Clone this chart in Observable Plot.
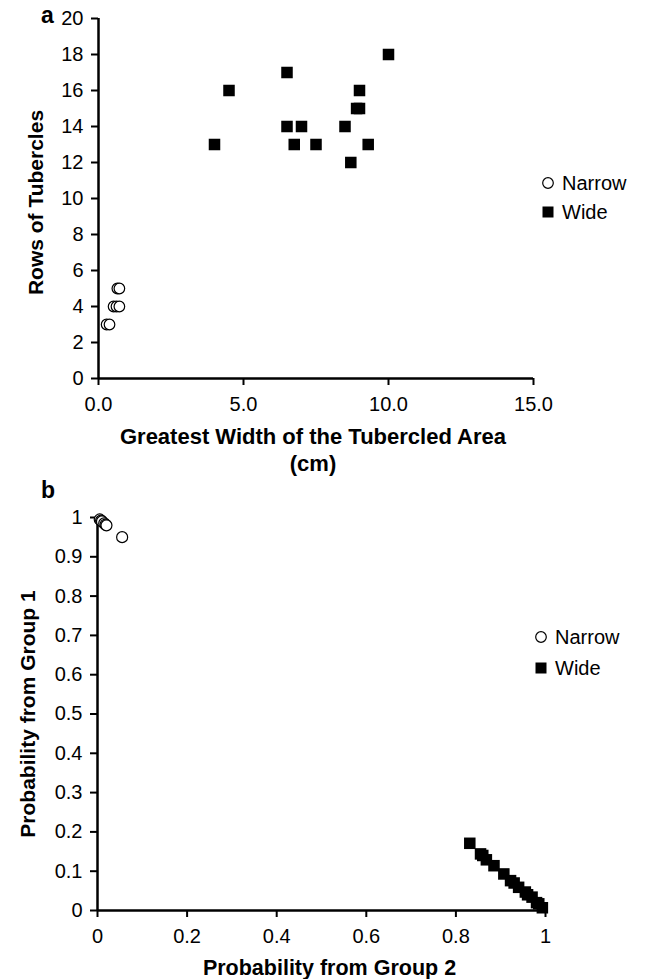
<!DOCTYPE html>
<html>
<head>
<meta charset="utf-8">
<script src="https://cdn.jsdelivr.net/npm/d3@7"></script>
<script src="https://cdn.jsdelivr.net/npm/@observablehq/plot@0.6"></script>
<style>
  body { margin: 0; background: #fff; font-family: "Liberation Sans", Arial, sans-serif; }
  #wrap { position: relative; width: 647px; height: 979px; overflow: hidden; }
  .panel { position: absolute; left: 0; }
  .plabel { position: absolute; font-weight: bold; font-size: 23px; line-height: 1; z-index: 2; }
  .leg { position: absolute; display: flex; align-items: center; font-size: 20px; line-height: 1; z-index: 2; }
  .leg svg { margin-right: 7px; }
</style>
</head>
<body>
<div id="wrap">
  <div class="panel" id="pa" style="top:0px;"></div>
  <div class="panel" id="pb" style="top:480px;"></div>
  <div class="plabel" style="left:41px; top:4px;">a</div>
  <div class="plabel" style="left:41px; top:479px;">b</div>
  <div class="leg" style="left:541px; top:173px;"><svg width="14" height="14"><circle cx="7" cy="7" r="5.3" fill="white" stroke="black" stroke-width="1.2"/></svg>Narrow</div>
  <div class="leg" style="left:541px; top:202px;"><svg width="14" height="14"><rect x="1.5" y="1.5" width="11" height="11" fill="black"/></svg>Wide</div>
  <div class="leg" style="left:534px; top:627px;"><svg width="14" height="14"><circle cx="7" cy="7" r="5.3" fill="white" stroke="black" stroke-width="1.2"/></svg>Narrow</div>
  <div class="leg" style="left:534px; top:658px;"><svg width="14" height="14"><rect x="1.5" y="1.5" width="11" height="11" fill="black"/></svg>Wide</div>
</div>
<script>
// Panel a data: greatest width of tubercled area (cm) vs rows of tubercles
const narrowWidth = [0.28, 0.38, 0.52, 0.62, 0.72, 0.65, 0.72];
const narrowRows  = [3, 3, 4, 4, 4, 5, 5];
const wideWidth   = [4.0, 4.5, 6.5, 6.5, 7.0, 6.75, 7.5, 8.5, 8.7, 8.9, 9.0, 9.0, 9.3, 10.0];
const wideRows    = [13, 16, 17, 14, 14, 13, 13, 14, 12, 15, 15, 16, 13, 18];
const xTicksA = [0, 5, 10, 15];
const yTicksA = [0, 2, 4, 6, 8, 10, 12, 14, 16, 18, 20];

// Panel b data: probability from group 2 (x) vs probability from group 1 (y)
const narrowP2 = [0.005, 0.008, 0.010, 0.015, 0.018, 0.020, 0.055];
const narrowP1 = [0.995, 0.992, 0.990, 0.985, 0.982, 0.980, 0.950];
const wideP2 = [0.831, 0.855, 0.860, 0.868, 0.885, 0.907, 0.922, 0.930, 0.940, 0.955, 0.960, 0.970, 0.980, 0.985, 0.993];
const wideP1 = [0.171, 0.144, 0.140, 0.129, 0.114, 0.093, 0.076, 0.070, 0.059, 0.047, 0.040, 0.034, 0.020, 0.017, 0.007];
const xTicksB = [0, 0.2, 0.4, 0.6, 0.8, 1];
const yTicksB = [0, 0.1, 0.2, 0.3, 0.4, 0.5, 0.6, 0.7, 0.8, 0.9, 1];

const titleA_x = "Greatest Width of the Tubercled Area\n(cm)";
const titleA_y = "Rows of Tubercles";
const titleB_x = "Probability from Group 2";
const titleB_y = "Probability from Group 1";

const narrowA = narrowWidth.map((w, i) => ({x: w, y: narrowRows[i]}));
const wideA = wideWidth.map((w, i) => ({x: w, y: wideRows[i]}));
const narrowB = narrowP2.map((p, i) => ({x: p, y: narrowP1[i]}));
const wideB = wideP2.map((p, i) => ({x: p, y: wideP1[i]}));

const baseStyle = {fontFamily: "Liberation Sans, Arial, sans-serif", fontSize: "20px", color: "black", background: "white", overflow: "visible"};
const fmtB = d => String(+d.toFixed(1));

const pa = Plot.plot({
  width: 647, height: 480,
  marginTop: 18, marginBottom: 102, marginLeft: 98, marginRight: 114,
  style: baseStyle,
  x: {domain: [0, 15]},
  y: {domain: [0, 20]},
  marks: [
    Plot.axisX({ticks: xTicksA, tickFormat: d => d.toFixed(1), tickSize: 7, tickPadding: 11, strokeWidth: 2, label: null}),
    Plot.axisY({ticks: yTicksA, tickSize: 7, tickPadding: 8, strokeWidth: 2, label: null}),
    Plot.ruleY([0], {strokeWidth: 2.5}),
    Plot.ruleX([0], {strokeWidth: 2.5}),
    Plot.text([titleA_x], {text: d => d, frameAnchor: "bottom", lineAnchor: "top", dy: 47, dx: -3, lineHeight: 1.2, fontWeight: "bold", fontSize: 22}),
    Plot.text([titleA_y], {text: d => d, frameAnchor: "left", textAnchor: "middle", rotate: -90, dx: -62, dy: 4, fontWeight: "bold", fontSize: 21}),
    Plot.dot(wideA, {x: "x", y: "y", symbol: "square", r: 6.5, fill: "black"}),
    Plot.dot(narrowA, {x: "x", y: "y", symbol: "circle", r: 5.3, fill: "white", stroke: "black", strokeWidth: 1.2})
  ]
});
document.getElementById("pa").appendChild(pa);

const pb = Plot.plot({
  width: 647, height: 499,
  marginTop: 37, marginBottom: 69, marginLeft: 97, marginRight: 102,
  style: baseStyle,
  x: {domain: [0, 1]},
  y: {domain: [0, 1]},
  marks: [
    Plot.axisX({ticks: xTicksB, tickFormat: fmtB, tickSize: 7, tickPadding: 11, strokeWidth: 2, label: null}),
    Plot.axisY({ticks: yTicksB, tickFormat: fmtB, tickSize: 7, tickPadding: 8, strokeWidth: 2, label: null}),
    Plot.ruleY([0], {strokeWidth: 2.5}),
    Plot.ruleX([0], {strokeWidth: 2.5}),
    Plot.text([titleB_x], {text: d => d, frameAnchor: "bottom", lineAnchor: "middle", dy: 58, dx: 8, fontWeight: "bold", fontSize: 21.5}),
    Plot.text([titleB_y], {text: d => d, frameAnchor: "left", textAnchor: "middle", rotate: -90, dx: -69, fontWeight: "bold", fontSize: 21}),
    Plot.dot(wideB, {x: "x", y: "y", symbol: "square", r: 6.5, fill: "black"}),
    Plot.dot(narrowB, {x: "x", y: "y", symbol: "circle", r: 5.5, fill: "white", stroke: "black", strokeWidth: 1.2})
  ]
});
document.getElementById("pb").appendChild(pb);
</script>
</body>
</html>
